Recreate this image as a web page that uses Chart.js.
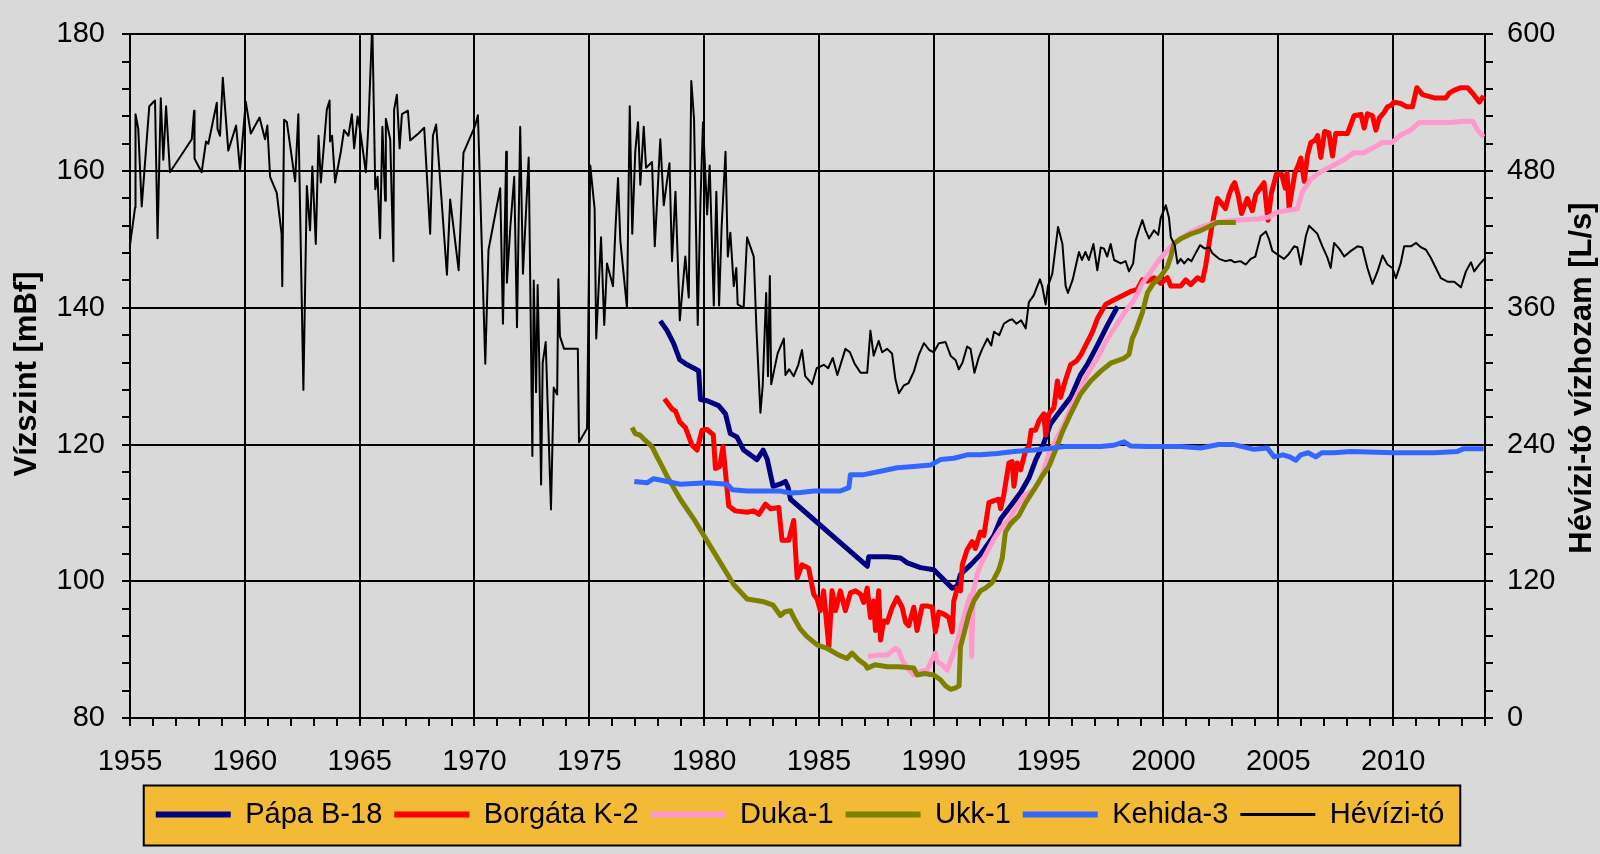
<!DOCTYPE html>
<html lang="hu">
<head>
  <meta charset="UTF-8">
  <title>Vízszint és Hévízi-tó vízhozam</title>
  <script src="https://cdn.jsdelivr.net/npm/chart.js"></script>
  <style>
    html, body { margin: 0; padding: 0; background: #d9d9d9; }
    canvas { display: block; }
  </style>
</head>
<body>
  <canvas id="grafikon" width="1600" height="854"></canvas>

  <script>
    // tengely feliratok
    const yearLabels = [1955, 1960, 1965, 1970, 1975, 1980, 1985, 1990, 1995, 2000, 2005, 2010];
    const levelLabels = [80, 100, 120, 140, 160, 180];
    const flowLabels = [0, 120, 240, 360, 480, 600];

    // Pápa B-18 (mBf)
    const papaYears = [
      1978.09, 1978.38, 1978.67, 1978.94, 1979.25, 1979.76, 1979.84, 1980.13, 1980.63, 1980.93,
      1981.14, 1981.43, 1981.72, 1982.3, 1982.57, 1982.75, 1983.0, 1983.3, 1983.54, 1983.65,
      1983.76, 1987.1, 1987.17, 1987.97, 1988.55, 1988.85, 1989.42, 1990.0, 1990.8, 1991.02,
      1991.16, 1991.6, 1992.03, 1992.62, 1992.91, 1993.34, 1993.78, 1994.14, 1994.43, 1994.79,
      1995.08, 1995.52, 1995.96, 1996.39, 1996.68, 1997.12, 1997.55, 1998.0
    ];
    const papaLevels = [
      138.1, 136.7, 134.8, 132.4, 131.7, 130.8, 126.6, 126.4, 125.7, 124.5,
      121.6, 121.1, 119.2, 117.8, 119.2, 117.8, 113.9, 114.2, 114.6, 113.8,
      112.0, 102.2, 103.6, 103.6, 103.4, 102.7, 102.0, 101.7, 99.0, 99.3,
      101.0, 102.4, 103.9, 106.7, 109.1, 111.0, 113.0, 115.1, 117.7, 120.2,
      123.0, 125.0, 126.9, 130.2, 131.7, 134.5, 137.4, 140.2
    ];

    // Borgáta K-2 (mBf)
    const borgataYears = [
      1978.27, 1978.6, 1978.75, 1978.94, 1979.18, 1979.47, 1979.69, 1979.91, 1980.13, 1980.4,
      1980.49, 1980.68, 1980.82, 1981.07, 1981.36, 1981.87, 1982.16, 1982.38, 1982.67, 1982.9,
      1983.25, 1983.39, 1983.68, 1983.9, 1984.05, 1984.26, 1984.55, 1984.77, 1984.92, 1985.06,
      1985.2, 1985.43, 1985.57, 1985.72, 1985.93, 1986.15, 1986.37, 1986.59, 1986.81, 1986.95,
      1987.1, 1987.24, 1987.38, 1987.46, 1987.6, 1987.68, 1987.82, 1987.97, 1988.19, 1988.4,
      1988.62, 1988.77, 1988.91, 1989.13, 1989.27, 1989.49, 1989.71, 1989.93, 1990.07, 1990.22,
      1990.44, 1990.65, 1990.8, 1990.87, 1991.02, 1991.16, 1991.24, 1991.45, 1991.67, 1991.81,
      1992.03, 1992.18, 1992.4, 1992.62, 1992.83, 1992.91, 1993.05, 1993.27, 1993.41, 1993.49,
      1993.63, 1993.78, 1994.0, 1994.14, 1994.24, 1994.43, 1994.58, 1994.79, 1994.87, 1995.01,
      1995.23, 1995.38, 1995.52, 1995.74, 1995.96, 1996.2, 1996.4, 1996.61, 1996.9, 1997.12,
      1997.27, 1997.48, 1997.92, 1998.57, 1998.86, 1999.08, 1999.3, 1999.59, 1999.88, 2000.17,
      2000.32, 2000.75, 2000.97, 2001.19, 2001.48, 2001.7, 2001.84, 2002.06, 2002.2, 2002.35,
      2002.5, 2002.7, 2002.85, 2003.0, 2003.1, 2003.25, 2003.4, 2003.65, 2003.87, 2004.02,
      2004.23, 2004.38, 2004.55, 2004.7, 2004.92, 2005.15, 2005.3, 2005.38, 2005.47, 2005.72,
      2005.85, 2005.98, 2006.13, 2006.27, 2006.42, 2006.6, 2006.71, 2006.85, 2007.02, 2007.2,
      2007.36, 2007.5, 2008.01, 2008.3, 2008.6, 2008.74, 2008.88, 2009.1, 2009.25, 2009.4,
      2009.61, 2009.75, 2009.9, 2010.04, 2010.33, 2010.6, 2010.84, 2011.03, 2011.28, 2011.79,
      2012.3, 2012.44, 2012.7, 2012.95, 2013.24, 2013.46, 2013.75, 2013.94
    ];
    const borgataLevels = [
      126.7, 125.2, 124.9, 123.3, 122.5, 119.9, 119.2, 122.1, 122.2, 121.4,
      116.5, 116.8, 119.7, 111.0, 110.3, 110.1, 110.3, 109.8, 111.3, 110.6,
      110.8, 106.0, 106.0, 108.9, 100.5, 102.4, 101.9, 98.1, 97.4, 95.7,
      98.6, 90.4, 98.6, 95.7, 98.6, 95.7, 98.3, 98.6, 98.1, 96.9,
      99.0, 94.7, 97.1, 92.8, 98.6, 91.4, 94.2, 94.0, 96.2, 97.6,
      96.2, 94.0, 93.5, 96.2, 92.8, 96.4, 96.4, 96.2, 92.6, 95.5,
      95.2, 94.7, 92.6, 97.1, 99.0, 98.6, 102.4, 104.6, 105.8, 104.8,
      107.2, 106.7, 111.5, 111.8, 112.0, 110.6, 112.7, 117.3, 117.5, 113.9,
      117.3, 116.3, 119.2, 119.7, 122.1, 122.1, 123.5, 124.5, 121.4, 124.5,
      125.4, 129.3, 126.9, 129.5, 131.7, 132.2, 133.1, 134.5, 136.4, 138.4,
      139.3, 140.5, 141.3, 142.4, 142.7, 144.1, 143.9, 144.4, 143.6, 144.4,
      143.2, 143.2, 144.1, 143.4, 144.4, 144.0, 146.2, 151.0, 153.5, 156.0,
      155.4, 154.5, 156.5, 157.8, 158.3, 156.5, 153.8, 156.0, 154.2, 156.6,
      157.6, 158.3, 152.8, 156.8, 159.6, 159.5, 157.5, 159.7, 154.6, 159.7,
      160.7, 161.9, 158.5, 162.3, 164.2, 164.5, 165.2, 162.0, 165.8, 165.6,
      162.2, 165.5, 165.5, 168.1, 168.3, 166.3, 168.4, 168.1, 166.0, 167.8,
      168.6, 169.4, 169.6, 170.1, 169.9, 169.4, 169.4, 172.2, 171.2, 170.7,
      170.7, 171.4, 171.9, 172.2, 172.2, 171.4, 170.1, 171.0
    ];

    // Duka-1 (mBf)
    const dukaYears = [
      1987.13, 1987.53, 1987.97, 1988.33, 1988.48, 1988.62, 1988.91, 1989.13, 1989.42, 1989.71,
      1989.93, 1990.07, 1990.15, 1990.36, 1990.58, 1990.8, 1990.95, 1991.2, 1991.45, 1991.6,
      1991.65, 1991.72, 1991.89, 1992.03, 1992.32, 1992.62, 1992.91, 1993.27, 1993.63, 1993.92,
      1994.36, 1994.58, 1994.79, 1995.01, 1995.38, 1995.67, 1996.03, 1996.39, 1996.75, 1997.12,
      1997.48, 1997.84, 1998.28, 1998.65, 1998.86, 1999.08, 1999.3, 1999.52, 1999.81, 2000.17,
      2000.46, 2000.75, 2001.19, 2001.62, 2002.2, 2002.79, 2003.51, 2004.09, 2004.6, 2004.96,
      2005.5, 2005.83, 2006.05, 2006.41, 2006.85, 2007.43, 2007.87, 2008.3, 2008.74, 2009.17,
      2009.54, 2009.97, 2010.33, 2010.77, 2011.13, 2011.79, 2012.51, 2013.09, 2013.46, 2013.68,
      2013.94
    ];
    const dukaLevels = [
      89.0, 89.2, 89.2, 90.2, 89.8, 88.5, 87.1, 86.3, 86.8, 87.0,
      88.7, 89.5, 88.2, 87.8, 87.0, 89.0, 90.4, 93.5, 96.5, 98.0,
      89.0, 98.5, 101.0, 102.4, 104.3, 106.2, 107.7, 109.1, 111.0, 112.5,
      113.4, 114.4, 116.3, 118.7, 121.1, 123.0, 125.9, 128.3, 130.7, 132.6,
      135.0, 136.9, 139.2, 140.8, 142.0, 143.6, 144.6, 145.6, 147.0, 148.4,
      149.4, 150.1, 151.1, 151.8, 152.4, 152.7, 152.9, 153.0, 153.3, 154.0,
      154.3, 154.5, 157.0, 158.8, 159.9, 160.9, 161.7, 162.7, 162.7, 163.5,
      164.2, 164.2, 165.3, 166.0, 167.1, 167.1, 167.1, 167.3, 167.3, 166.0,
      165.0
    ];

    // Ukk-1 (mBf)
    const ukkYears = [
      1976.86, 1977.0, 1977.2, 1977.44, 1977.73, 1977.95, 1978.17, 1978.38, 1978.67, 1978.96,
      1979.55, 1980.42, 1981.29, 1981.87, 1982.6, 1983.0, 1983.32, 1983.5, 1983.76, 1983.9,
      1984.19, 1984.48, 1984.92, 1985.35, 1985.86, 1986.22, 1986.44, 1986.73, 1987.02, 1987.1,
      1987.46, 1987.97, 1988.48, 1989.13, 1989.27, 1989.6, 1990.0, 1990.29, 1990.51, 1990.73,
      1990.95, 1991.1, 1991.16, 1991.31, 1991.53, 1991.74, 1992.03, 1992.25, 1992.54, 1992.83,
      1992.98, 1993.12, 1993.34, 1993.7, 1994.0, 1994.36, 1994.72, 1995.01, 1995.3, 1995.59,
      1995.96, 1996.39, 1996.83, 1997.26, 1997.7, 1998.28, 1998.5, 1998.64, 1998.79, 1999.08,
      1999.3, 1999.52, 1999.88, 2000.17, 2000.32, 2000.46, 2000.75, 2001.19, 2001.62, 2002.06,
      2002.35, 2003.15
    ];
    const ukkLevels = [
      122.5, 121.6, 121.4, 120.6, 119.7, 118.2, 116.8, 115.4, 113.7, 112.0,
      109.1, 104.3, 99.5, 97.4, 97.0, 96.5, 95.0, 95.5, 95.7, 94.7,
      93.0, 91.9, 90.7, 90.2, 89.2, 88.7, 89.5, 88.5, 87.8, 87.3,
      87.8, 87.5, 87.5, 87.3, 86.3, 86.5, 86.3, 85.6, 84.7, 84.2,
      84.4, 84.7, 90.4, 92.3, 95.2, 97.1, 98.6, 99.0, 99.8, 101.7,
      103.4, 107.2, 108.4, 109.6, 111.5, 113.4, 115.4, 116.8, 119.2, 121.8,
      124.5, 127.4, 129.3, 130.7, 131.9, 132.6, 133.2, 135.5, 136.6, 139.3,
      142.2, 143.4, 144.6, 146.0, 147.5, 149.4, 150.1, 150.8, 151.3, 152.0,
      152.5, 152.5
    ];

    // Kehida-3 (mBf)
    const kehidaYears = [
      1976.96, 1977.51, 1977.8, 1978.4, 1978.96, 1980.13, 1981.0, 1981.22, 1981.87, 1983.32,
      1983.76, 1984.2, 1984.77, 1985.93, 1986.3, 1986.37, 1986.95, 1987.68, 1988.4, 1989.13,
      1989.86, 1990.29, 1990.87, 1991.45, 1992.03, 1992.76, 1993.49, 1994.36, 1994.94, 1995.67,
      1996.39, 1997.26, 1997.84, 1998.28, 1998.57, 1999.3, 2000.75, 2001.62, 2002.4, 2003.07,
      2003.94, 2004.52, 2004.81, 2005.2, 2005.5, 2005.76, 2005.98, 2006.3, 2006.63, 2006.9,
      2007.43, 2008.16, 2010.04, 2011.79, 2012.8, 2013.09, 2013.94
    ];
    const kehidaLevels = [
      114.6, 114.4, 115.0, 114.6, 114.2, 114.4, 114.2, 113.4, 113.2, 113.2,
      112.9, 113.0, 113.2, 113.2, 113.7, 115.6, 115.6, 116.1, 116.6, 116.8,
      117.0, 117.8, 118.0, 118.5, 118.5, 118.7, 119.0, 119.2, 119.4, 119.7,
      119.7, 119.7, 119.9, 120.4, 119.8, 119.7, 119.7, 119.5, 120.0, 120.0,
      119.3, 119.5, 118.2, 118.5, 118.2, 117.7, 118.5, 118.8, 118.2, 118.8,
      118.8, 119.0, 118.8, 118.8, 119.0, 119.4, 119.4
    ];

    // Hévízi-tó vízhozam (L/s)
    const hevizYears = [
      1955.0, 1955.22, 1955.24, 1955.36, 1955.51, 1955.84, 1956.09, 1956.2, 1956.34, 1956.45,
      1956.57, 1956.74, 1957.69, 1957.79, 1957.81, 1958.12, 1958.31, 1958.41, 1958.78, 1958.81,
      1958.92, 1959.04, 1959.28, 1959.62, 1959.79, 1960.04, 1960.26, 1960.64, 1960.88, 1960.98,
      1961.1, 1961.39, 1961.6, 1961.63, 1961.71, 1961.83, 1962.19, 1962.33, 1962.55, 1962.7,
      1962.84, 1962.94, 1963.09, 1963.21, 1963.31, 1963.57, 1963.69, 1963.71, 1963.8, 1963.93,
      1964.18, 1964.32, 1964.51, 1964.66, 1964.76, 1964.91, 1965.02, 1965.27, 1965.38, 1965.55,
      1965.68, 1965.78, 1965.89, 1965.99, 1966.11, 1966.14, 1966.33, 1966.47, 1966.5, 1966.62,
      1966.74, 1966.84, 1967.1, 1967.2, 1967.56, 1967.81, 1968.07, 1968.19, 1968.33, 1968.8,
      1968.94, 1969.31, 1969.52, 1970.03, 1970.15, 1970.47, 1970.61, 1971.12, 1971.24, 1971.38,
      1971.41, 1971.56, 1971.73, 1971.85, 1971.99, 1972.11, 1972.36, 1972.52, 1972.58, 1972.68,
      1972.75, 1972.82, 1972.9, 1972.97, 1973.1, 1973.33, 1973.45, 1973.6, 1973.65, 1973.72,
      1973.9, 1974.5, 1974.55, 1974.9, 1975.04, 1975.23, 1975.3, 1975.51, 1975.65, 1975.77,
      1976.03, 1976.13, 1976.25, 1976.35, 1976.64, 1976.76, 1976.87, 1977.0, 1977.12, 1977.22,
      1977.37, 1977.47, 1977.73, 1977.85, 1978.09, 1978.24, 1978.49, 1978.6, 1978.75, 1978.94,
      1979.18, 1979.33, 1979.44, 1979.56, 1979.72, 1979.84, 1979.95, 1980.13, 1980.24, 1980.42,
      1980.53, 1980.65, 1980.76, 1980.93, 1981.03, 1981.14, 1981.29, 1981.4, 1981.46, 1981.72,
      1981.87, 1982.16, 1982.28, 1982.45, 1982.55, 1982.7, 1982.78, 1982.86, 1982.92, 1983.2,
      1983.47, 1983.54, 1983.7, 1983.9, 1984.1, 1984.26, 1984.4, 1984.7, 1984.9, 1985.21,
      1985.4, 1985.6, 1985.8, 1986.15, 1986.35, 1986.55, 1986.81, 1987.1, 1987.24, 1987.38,
      1987.6, 1987.75, 1987.97, 1988.18, 1988.33, 1988.48, 1988.7, 1988.9, 1989.13, 1989.35,
      1989.57, 1989.8, 1990.0, 1990.22, 1990.51, 1990.73, 1990.95, 1991.09, 1991.25, 1991.45,
      1991.6, 1991.77, 1991.95, 1992.11, 1992.33, 1992.5, 1992.62, 1992.85, 1993.05, 1993.27,
      1993.41, 1993.6, 1993.8, 1994.0, 1994.14, 1994.35, 1994.62, 1994.72, 1994.87, 1994.97,
      1995.16, 1995.41, 1995.6, 1995.74, 1995.84, 1996.05, 1996.32, 1996.45, 1996.6, 1996.75,
      1996.95, 1997.12, 1997.27, 1997.41, 1997.55, 1997.7, 1997.85, 1998.14, 1998.35, 1998.5,
      1998.68, 1998.79, 1998.94, 1999.08, 1999.22, 1999.37, 1999.59, 1999.77, 1999.88, 2000.1,
      2000.24, 2000.32, 2000.49, 2000.61, 2000.75, 2000.9, 2001.07, 2001.22, 2001.4, 2001.59,
      2001.8, 2002.0, 2002.13, 2002.42, 2002.7, 2002.92, 2003.1, 2003.35, 2003.58, 2003.8,
      2004.0, 2004.23, 2004.46, 2004.6, 2004.74, 2004.95, 2005.25, 2005.45, 2005.69, 2005.83,
      2005.98, 2006.2, 2006.34, 2006.55, 2006.7, 2006.92, 2007.14, 2007.28, 2007.43, 2007.65,
      2007.87, 2008.16, 2008.45, 2008.66, 2008.88, 2009.1, 2009.32, 2009.54, 2009.75, 2009.97,
      2010.12, 2010.33, 2010.48, 2010.77, 2011.0, 2011.22, 2011.43, 2011.64, 2011.86, 2012.08,
      2012.37, 2012.66, 2012.95, 2013.17, 2013.39, 2013.53, 2013.75, 2013.97
    ];
    const hevizFlow = [
      415, 448, 530, 517, 449, 537, 542, 421, 544, 490,
      537, 479, 508, 533, 491, 479, 506, 504, 540, 517,
      511, 562, 498, 520, 481, 541, 513, 527, 508, 520,
      475, 461, 425, 379, 525, 523, 471, 530, 288, 467,
      428, 484, 416, 511, 470, 534, 542, 506, 511, 470,
      497, 516, 511, 530, 500, 528, 516, 479, 520, 610,
      464, 475, 421, 519, 454, 526, 508, 401, 534, 547,
      500, 530, 533, 507, 513, 518, 425, 511, 521, 389,
      455, 393, 496, 520, 529, 311, 411, 465, 346, 497,
      382, 431, 475, 343, 519, 390, 492, 230, 384, 286,
      380, 313, 205, 312, 330, 183, 290, 284, 385, 335,
      324, 324, 242, 254, 485, 447, 333, 422, 345, 399,
      379, 426, 474, 419, 360, 537, 425, 497, 523, 468,
      519, 483, 488, 414, 508, 450, 487, 401, 462, 349,
      405, 369, 559, 526, 345, 454, 523, 442, 485, 362,
      462, 362, 431, 497, 405, 426, 379, 395, 363, 360,
      422, 405, 340, 268, 292, 373, 300, 388, 293, 320,
      333, 301, 306, 300, 310, 323, 300, 293, 307, 310,
      307, 316, 301, 324, 321, 311, 303, 303, 340, 318,
      331, 321, 324, 320, 297, 285, 292, 294, 304, 319,
      329, 323, 321, 329, 330, 318, 314, 306, 312, 326,
      324, 303, 316, 324, 333, 327, 339, 336, 346, 349,
      350, 346, 349, 342, 365, 371, 385, 379, 363, 379,
      390, 431, 416, 379, 373, 385, 409, 402, 409, 402,
      416, 393, 413, 412, 405, 416, 402, 399, 401, 392,
      399, 419, 429, 437, 428, 421, 428, 424, 439, 450,
      439, 422, 415, 399, 403, 399, 403, 401, 408, 415,
      412, 413, 408, 403, 401, 402, 400, 401, 398, 403,
      405, 423, 427, 420, 410, 407, 403, 407, 414, 413,
      398, 423, 432, 428, 425, 414, 404, 395, 417, 412,
      405, 410, 414, 413, 395, 381, 392, 406, 398, 395,
      386, 399, 414, 414, 417, 413, 411, 404, 395, 386,
      383, 383, 378, 392, 400, 392, 398, 403
    ];

    const pontok = (xs, ys) => xs.map((x, i) => ({ x: x, y: ys[i] }));

    Chart.defaults.font.family = "'Liberation Sans', Arial, sans-serif";
    Chart.defaults.font.size = 29;
    Chart.defaults.color = '#000';

    // narancs hatter a jelmagyarazat mogott
    const legendBackground = {
      id: 'legendBackground',
      beforeDraw(chart) {
        const boxes = chart.legend.legendHitBoxes;
        if (!boxes || !boxes.length) return;
        const first = boxes[0];
        const last = boxes[boxes.length - 1];
        const left = first.left - 12;
        const right = last.left + last.width + 16;
        const mid = first.top + first.height / 2;
        const ctx = chart.ctx;
        ctx.save();
        ctx.fillStyle = '#f3ba35';
        ctx.strokeStyle = '#000';
        ctx.lineWidth = 2;
        ctx.fillRect(left, mid - 29, right - left, 60);
        ctx.strokeRect(left, mid - 29, right - left, 60);
        ctx.restore();
      }
    };

    // tengelycimek, mindketto alulrol felfele olvasva
    const axisTitles = {
      id: 'axisTitles',
      afterDraw(chart) {
        const ctx = chart.ctx;
        ctx.save();
        ctx.font = "bold 31px 'Liberation Sans', Arial, sans-serif";
        ctx.fillStyle = '#000';
        ctx.textAlign = 'center';
        ctx.textBaseline = 'middle';
        [[27, 374, 'Vízszint [mBf]'], [1582, 378, 'Hévízi-tó vízhozam [L/s]']].forEach(t => {
          ctx.save();
          ctx.translate(t[0], t[1]);
          ctx.rotate(-Math.PI / 2);
          ctx.fillText(t[2], 0, 0);
          ctx.restore();
        });
        ctx.restore();
      }
    };

    const vonal = (label, xs, ys, color, width, axis, order) => ({
      label: label,
      data: pontok(xs, ys),
      borderColor: color,
      backgroundColor: color,
      borderWidth: width,
      borderJoinStyle: 'round',
      pointRadius: 0,
      tension: 0,
      yAxisID: axis,
      order: order
    });

    new Chart(document.getElementById('grafikon'), {
      type: 'line',
      data: {
        datasets: [
          vonal('Pápa B-18', papaYears, papaLevels, '#000080', 5, 'y', 5),
          vonal('Borgáta K-2', borgataYears, borgataLevels, '#ff0000', 5, 'y', 4),
          vonal('Duka-1', dukaYears, dukaLevels, '#ff99cc', 5, 'y', 3),
          vonal('Ukk-1', ukkYears, ukkLevels, '#808000', 5, 'y', 2),
          vonal('Kehida-3', kehidaYears, kehidaLevels, '#3366ff', 5, 'y', 1),
          vonal('Hévízi-tó', hevizYears, hevizFlow, '#000000', 2, 'y2', 0)
        ]
      },
      options: {
        responsive: false,
        animation: false,
        devicePixelRatio: 1,
        layout: { padding: { top: 24, bottom: 15, left: 0, right: 0 } },
        plugins: {
          tooltip: { enabled: false },
          legend: {
            position: 'bottom',
            labels: {
              usePointStyle: true,
              pointStyleWidth: 75,
              padding: 12,
              font: { size: 29 },
              color: '#000',
              generateLabels: chart => chart.data.datasets.map((ds, i) => ({
                text: ds.label,
                strokeStyle: ds.borderColor,
                fillStyle: ds.borderColor,
                lineWidth: ds.borderWidth + 1,
                pointStyle: 'line',
                datasetIndex: i,
                hidden: false
              }))
            }
          }
        },
        scales: {
          x: {
            type: 'linear',
            min: 1955,
            max: 2014,
            afterFit: s => { s.height = 70; },
            border: { color: '#000', width: 2 },
            grid: {
              color: c => yearLabels.includes(c.tick.value) ? '#000' : 'rgba(0,0,0,0)',
              lineWidth: 2,
              tickColor: '#000',
              tickWidth: 2,
              tickLength: 8
            },
            ticks: {
              stepSize: 1,
              autoSkip: false,
              maxRotation: 0,
              padding: 19,
              callback: v => yearLabels.includes(v) ? String(v) : ''
            }
          },
          y: {
            position: 'left',
            min: 80,
            max: 180,
            afterFit: s => { s.width = 130; },
            border: { color: '#000', width: 2 },
            grid: {
              color: c => levelLabels.includes(c.tick.value) ? '#000' : 'rgba(0,0,0,0)',
              lineWidth: 2,
              tickColor: '#000',
              tickWidth: 2,
              tickLength: 8
            },
            ticks: {
              stepSize: 4,
              autoSkip: false,
              padding: 17,
              callback: v => levelLabels.includes(v) ? String(v) : ''
            }
          },
          y2: {
            position: 'right',
            min: 0,
            max: 600,
            afterFit: s => { s.width = 115; },
            border: { color: '#000', width: 2 },
            grid: {
              drawOnChartArea: false,
              color: '#000',
              lineWidth: 2,
              tickColor: '#000',
              tickWidth: 2,
              tickLength: 8
            },
            ticks: {
              stepSize: 24,
              autoSkip: false,
              padding: 14,
              callback: v => flowLabels.includes(v) ? String(v) : ''
            }
          }
        }
      },
      plugins: [legendBackground, axisTitles]
    });
  </script>
</body>
</html>
